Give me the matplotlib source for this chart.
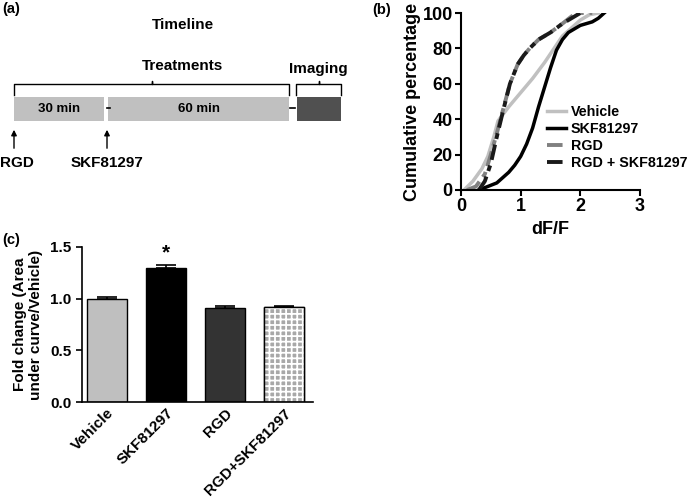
import matplotlib
matplotlib.use("Agg")
import matplotlib.pyplot as plt
from matplotlib.patches import Rectangle

plt.rcParams['font.family'] = ['Liberation Sans', 'DejaVu Sans']
plt.rcParams['font.weight'] = 'bold'
plt.rcParams['axes.labelweight'] = 'bold'
plt.rcParams['hatch.linewidth'] = 1.3

# timeline (panel a)
segments = ["30 min", "60 min"]
seg_minutes = [30, 60]
drugs = ["RGD", "SKF81297"]

# cumulative curves (panel b)
vehicle_x = [0.05, 0.2, 0.35, 0.45, 0.55, 0.62, 0.8, 1.0, 1.2, 1.4, 1.5, 1.6, 1.7, 1.8, 2.0, 2.15, 2.3]
vehicle_y = [0, 5, 12, 19, 30, 39, 47, 55, 63, 72, 77, 82, 87, 90, 96, 99, 100]
skf_x = [0.3, 0.45, 0.6, 0.7, 0.8, 0.9, 1.0, 1.1, 1.2, 1.3, 1.4, 1.5, 1.6, 1.7, 1.8, 1.9, 2.0, 2.1, 2.2, 2.3, 2.4]
skf_y = [0, 2, 4, 7, 10, 14, 19, 26, 35, 47, 58, 69, 79, 85, 89, 91, 93, 94, 95, 97, 100]
rgd_x = [0.1, 0.25, 0.4, 0.5, 0.6, 0.67, 0.82, 0.95, 1.05, 1.15, 1.3, 1.5, 1.7, 1.85, 1.95, 2.2]
rgd_y = [0, 2, 9, 20, 32, 41, 60, 71, 76, 80, 85, 89, 94, 98, 100, 100]
rgdskf_x = [0.3, 0.4, 0.5, 0.6, 0.7, 0.82, 0.95, 1.05, 1.15, 1.3, 1.5, 1.7, 1.9, 2.0]
rgdskf_y = [0, 5, 15, 30, 44, 60, 71, 76, 80, 85, 89, 94, 98, 100]

# bar chart (panel c)
groups = ["Vehicle", "SKF81297", "RGD", "RGD+SKF81297"]
fold = [1.00, 1.30, 0.91, 0.92]
sem = [0.02, 0.025, 0.02, 0.01]

fig = plt.figure(figsize=(6.9, 5.03), dpi=100)

# ---------- (a) timeline, drawn in pixel units ----------
axa = fig.add_axes([0, 1 - 180 / 503, 350 / 690, 180 / 503])
axa.set_xlim(0, 350)
axa.set_ylim(180, 0)
axa.axis('off')

grey = '#c0c0c0'
x0, x_end, gap = 14, 289, 4
px_per_min = (x_end - x0 - gap) / sum(seg_minutes)
x = x0
for lab, m in zip(segments, seg_minutes):
    w = m * px_per_min
    axa.add_patch(Rectangle((x, 97), w, 24, color=grey, lw=0))
    axa.text(x + w / 2, 109, lab, ha='center', va='center', fontsize=9.5)
    x += w + gap
# small dashes between blocks
axa.plot([106.5, 109.5], [108, 108], color='black', lw=1.2)
axa.plot([290, 295], [108, 108], color='black', lw=1.2)
axa.add_patch(Rectangle((297, 97), 44, 24, color='#505050', lw=0))


def brace(ax, xa, xb, y, h=11):
    xm = (xa + xb) / 2
    verts = [(xa, y + h), (xa, y), (xa + 3, y), (xm - 3, y), (xm, y), (xm, y - 3),
             (xm, y), (xm + 3, y), (xb - 3, y), (xb, y), (xb, y + h)]
    ax.plot([v[0] for v in verts], [v[1] for v in verts], color='black', lw=1.0)


brace(axa, 14, 289, 84)
brace(axa, 296, 341, 84)

axa.text(2, 9, "(a)", fontsize=10.5, ha='left', va='center')
axa.text(183, 25, "Timeline", fontsize=11, ha='center', va='center')
axa.text(183, 66, "Treatments", fontsize=11, ha='center', va='center')
axa.text(318, 69, "Imaging", fontsize=11, ha='center', va='center')

for xs, lab in zip([14, 107], drugs):
    axa.annotate("", xy=(xs, 127), xytext=(xs, 151),
                 arrowprops=dict(arrowstyle='-|>', color='black', lw=1.0,
                                 mutation_scale=8))
    axa.text(xs if lab != "RGD" else 17, 163, lab, fontsize=11,
             ha='center', va='center')

# ---------- (b) cumulative distributions ----------
axb = fig.add_axes([461 / 690, 1 - 190 / 503, 179 / 690, 177 / 503])
axb.plot(vehicle_x, vehicle_y, color='#c0c0c0', lw=2.5, label='Vehicle')
axb.plot(skf_x, skf_y, color='black', lw=2.5, label='SKF81297')
axb.plot(rgd_x, rgd_y, color='#808080', lw=2.8, dashes=(4, 1.5, 1.5, 1.5), label='RGD')
axb.plot(rgdskf_x, rgdskf_y, color='#1a1a1a', lw=2.8, dashes=(4, 1.5, 1.5, 1.5),
         label='RGD + SKF81297')
axb.set_xlim(0, 3)
axb.set_ylim(0, 100)
axb.set_xticks([0, 1, 2, 3])
axb.set_yticks([0, 20, 40, 60, 80, 100])
axb.spines[['top', 'right']].set_visible(False)
for s in ['left', 'bottom']:
    axb.spines[s].set_linewidth(1.5)
axb.tick_params(width=1.5, length=4, labelsize=13, pad=2)
axb.set_xlabel("dF/F", fontsize=13, labelpad=4)
axb.set_ylabel("Cumulative percentage", fontsize=13, labelpad=1)
axb.legend(loc='upper left', bbox_to_anchor=(547 / 690, 1 - 105 / 503),
           bbox_transform=fig.transFigure, frameon=False,
           fontsize=10.3, handlelength=1.3, handletextpad=0.35,
           labelspacing=0.22, borderpad=0, borderaxespad=0)
fig.text(372 / 690, 1 - 10 / 503, "(b)", fontsize=10.5, ha='left', va='center')

# ---------- (c) bar chart ----------
axc = fig.add_axes([82 / 690, 1 - 402 / 503, 231 / 690, 155 / 503])
pos = range(len(groups))
colors = ['#bfbfbf', 'black', '#333333', 'white']
axc.bar(pos, fold, width=0.68, color=colors, edgecolor='black', lw=1.0,
        yerr=[[0] * 4, sem], error_kw=dict(capsize=7, elinewidth=1.2,
                                            capthick=1.2, ecolor='black'),
        zorder=2)
# brick-like pattern on the last bar
axc.bar([3], [fold[3]], width=0.68, color='#a8a8a8', hatch='+++',
        edgecolor='white', lw=0, zorder=2.5)
axc.bar([3], [fold[3]], width=0.68, fill=False, edgecolor='black', lw=1.0,
        zorder=3)
axc.text(1, fold[1] + sem[1] + 0.03, "*", ha='center', va='bottom', fontsize=15)
axc.set_xlim(-0.42, 3.49)
axc.set_ylim(0, 1.5)
axc.set_yticks([0, 0.5, 1.0, 1.5])
axc.set_yticklabels(["0.0", "0.5", "1.0", "1.5"])
axc.set_xticks(list(pos))
axc.set_xticklabels(groups, rotation=45, ha='right', rotation_mode='anchor')
axc.tick_params(axis='x', length=0, labelsize=11, pad=3)
axc.tick_params(axis='y', width=1.2, length=4, labelsize=11)
axc.spines[['top', 'right']].set_visible(False)
for s in ['left', 'bottom']:
    axc.spines[s].set_linewidth(1.2)
axc.set_ylabel("Fold change (Area\nunder curve/Vehicle)", fontsize=11,
               labelpad=5)
fig.text(2 / 690, 1 - 240 / 503, "(c)", fontsize=10.5, ha='left', va='center')

fig.savefig("out.png", dpi=100)
